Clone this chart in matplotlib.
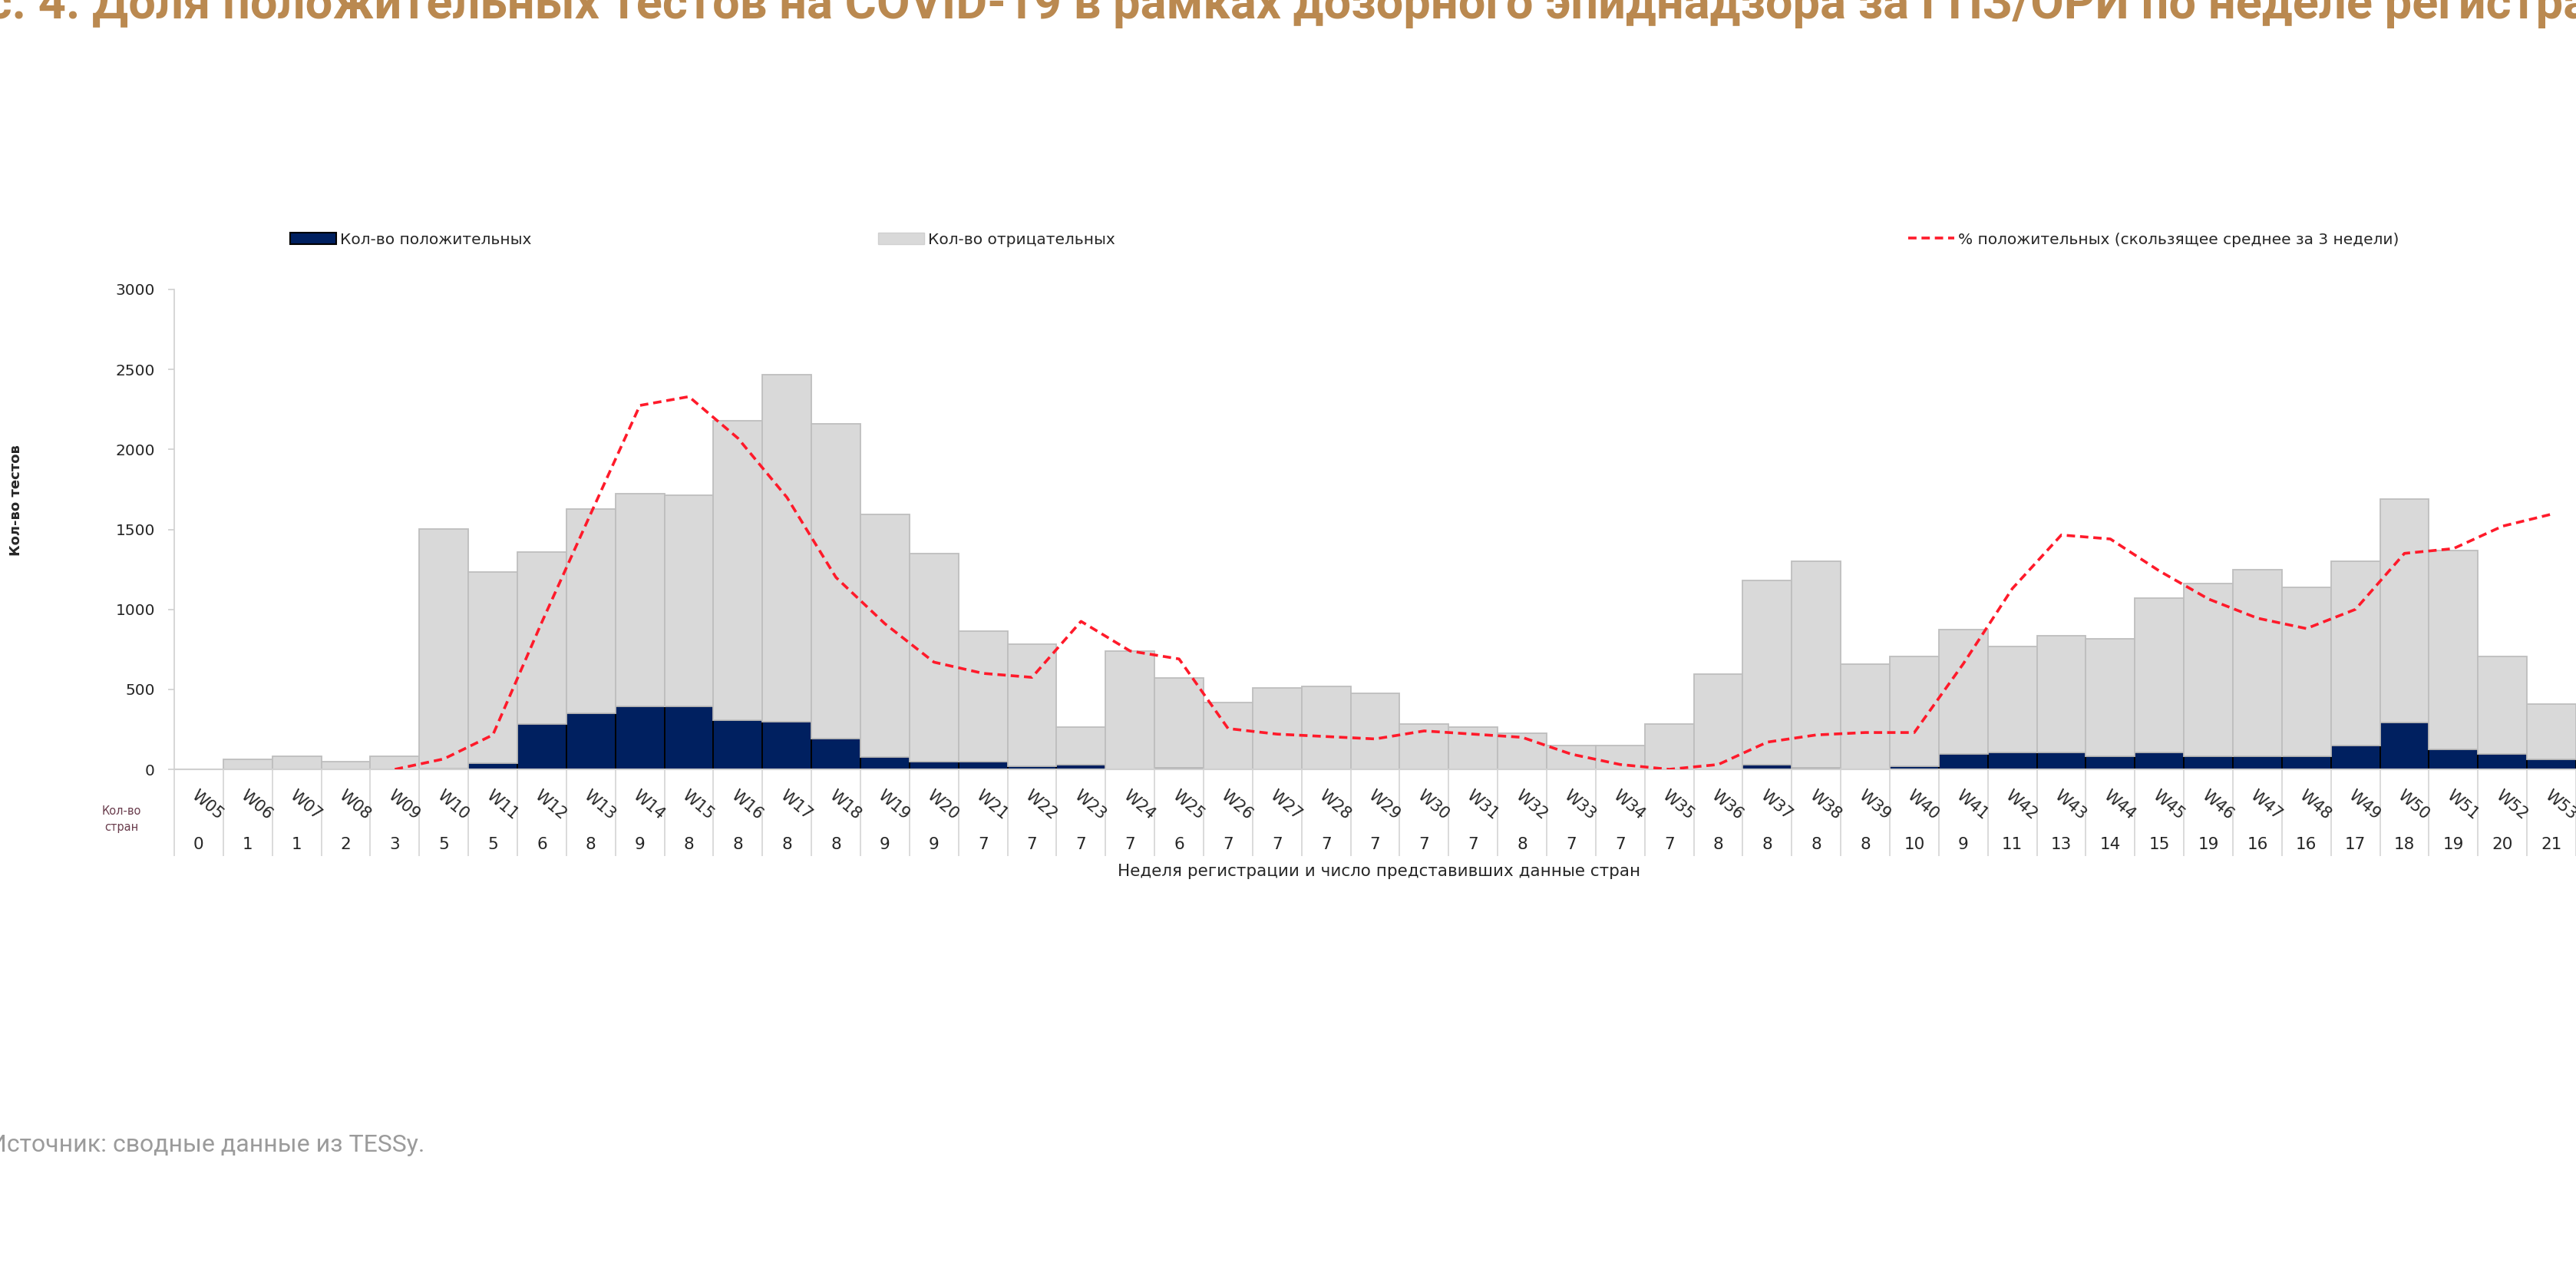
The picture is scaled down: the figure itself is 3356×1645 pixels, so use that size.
import numpy as np
import matplotlib.pyplot as plt
from matplotlib.patches import Patch
from matplotlib.lines import Line2D

# --- data ---
weeks = ['W05', 'W06', 'W07', 'W08', 'W09', 'W10', 'W11', 'W12', 'W13', 'W14',
         'W15', 'W16', 'W17', 'W18', 'W19', 'W20', 'W21', 'W22', 'W23', 'W24',
         'W25', 'W26', 'W27', 'W28', 'W29', 'W30', 'W31', 'W32', 'W33', 'W34',
         'W35', 'W36', 'W37', 'W38', 'W39', 'W40', 'W41', 'W42', 'W43', 'W44',
         'W45', 'W46', 'W47', 'W48', 'W49', 'W50', 'W51', 'W52', 'W53']
countries = [0, 1, 1, 2, 3, 5, 5, 6, 8, 9, 8, 8, 8, 8, 9, 9, 7, 7, 7, 7,
             6, 7, 7, 7, 7, 7, 7, 8, 7, 7, 7, 8, 8, 8, 8, 10, 9, 11, 13, 14,
             15, 19, 16, 16, 17, 18, 19, 20, 21]
total_tests = [0, 61, 83, 50, 83, 1501, 1236, 1360, 1625, 1725,
               1714, 2180, 2465, 2158, 1592, 1347, 863, 782, 263, 738,
               573, 420, 507, 517, 473, 283, 263, 228, 150, 150,
               283, 594, 1182, 1303, 658, 705, 875, 768, 837, 815,
               1069, 1160, 1248, 1138, 1303, 1692, 1367, 705, 407]
positives = [0, 0, 0, 0, 0, 6, 40, 285, 350, 393,
             395, 305, 296, 194, 75, 50, 50, 19, 30, 0,
             8, 0, 0, 0, 0, 0, 0, 0, 0, 0,
             0, 0, 28, 8, 0, 19, 94, 108, 108, 83,
             105, 83, 83, 83, 149, 295, 124, 97, 61]
pct_pos_3wk = [np.nan, np.nan, np.nan, np.nan, 0.0, 1.3, 4.3, 18.4, 32.0, 45.5,
               46.6, 41.4, 34.0, 24.0, 18.2, 13.4, 12.0, 11.5, 18.5, 14.8,
               13.8, 5.1, 4.4, 4.1, 3.8, 4.8, 4.4, 4.0, 1.9, 0.6,
               0.0, 0.6, 3.4, 4.3, 4.6, 4.6, 13.2, 22.6, 29.3, 28.8,
               24.8, 21.3, 18.9, 17.6, 20.0, 27.0, 27.6, 30.4, 31.9]

title = ('Рис. 4. Доля положительных тестов на COVID-19 в рамках дозорного '
         'эпиднадзора за ГПЗ/ОРИ по неделе регистрации')

W, H = 3356, 1645
def fx(px):
    return px / W
def fy(py):
    return 1 - py / H

fig = plt.figure(figsize=(W / 100, H / 100), dpi=100)
fig.patch.set_facecolor('white')

plt.rcParams['font.family'] = ['DejaVu Sans']
txt_col = '#262626'

# axes: zero line at y=1002 px, 3000 at 377 px, y axis at x=227 px
ax = fig.add_axes([fx(227), fy(1002), 1 - fx(227), (1002 - 377) / H])
x = np.arange(len(weeks))
pos = np.array(positives, dtype=float)
neg = np.array(total_tests, dtype=float) - pos

has_pos = pos > 0
ax.bar(x[has_pos], pos[has_pos], width=1.0, color='#002060',
       edgecolor='#000000', linewidth=1.3, zorder=2)
ax.bar(x, neg, bottom=pos, width=1.0, color='#D9D9D9',
       edgecolor='#BEBEBE', linewidth=1.3, zorder=2)

ax.set_ylim(0, 3000)
ax.set_xlim(-0.5, -0.5 + (W - 227) / 64.2)
ax.set_yticks([0, 500, 1000, 1500, 2000, 2500, 3000])
ax.tick_params(axis='y', length=6, width=1.2, color='#D0D0D0', pad=12,
               labelsize=14.5, labelcolor=txt_col)
ax.set_xticks([])
ax.set_xticks(np.arange(-0.5, len(weeks)), minor=True)
ax.tick_params(axis='x', which='minor', length=81, width=1.2, color='#D4D4D4')
for s in ['top', 'right']:
    ax.spines[s].set_visible(False)
ax.spines['left'].set_color('#D0D0D0')
ax.spines['left'].set_linewidth(1.2)
ax.spines['bottom'].set_color('#D0D0D0')
ax.spines['bottom'].set_linewidth(1.5)

ax2 = ax.twinx()
ax2.set_ylim(0, 60)
ax2.plot(x, pct_pos_3wk, color='#FF1A2A', linewidth=2.6,
         linestyle=(0, (3, 1.8)), zorder=5)
ax2.set_yticks([])
for s in ax2.spines.values():
    s.set_visible(False)

# labels under the axis
trans = ax.get_xaxis_transform()
def ya(py):
    return (1002 - py) / (1002 - 377) * -1.0 * -1.0 if False else -(py - 1002) / (1002 - 377)

for i, wk in enumerate(weeks):
    ax.text(i - 0.1, ya(1033), wk, rotation=-40, rotation_mode='anchor',
            ha='left', va='center', fontsize=15, color=txt_col,
            transform=trans, clip_on=False)
for i, c in enumerate(countries):
    ax.text(i, ya(1100), str(c), ha='center', va='center', fontsize=15.5,
            color=txt_col, transform=trans, clip_on=False)

fig.text(fx(158), fy(1067), 'Кол-во\nстран', ha='center', va='center',
         fontsize=10.5, color='#6A3D4D', linespacing=1.5)
fig.text(fx(1797), fy(1135), 'Неделя регистрации и число представивших данные стран',
         ha='center', va='center', fontsize=15.5, color=txt_col)
fig.text(fx(21), fy(652), 'Кол-во тестов', rotation=90, ha='center',
         va='center', fontsize=13, fontweight='bold', color=txt_col)

# legend, three entries spread across the top
leg_items = [
    (Patch(facecolor='#002060', edgecolor='#000000', linewidth=1.5),
     'Кол-во положительных', 378),
    (Patch(facecolor='#D9D9D9', edgecolor='#D0D0D0', linewidth=1.0),
     'Кол-во отрицательных', 1144),
    (Line2D([], [], color='#FF1A2A', linewidth=2.6, linestyle=(0, (3, 1.8))),
     '% положительных (скользящее среднее за 3 недели)', 2486),
]
for handle, label, px in leg_items:
    lg = fig.legend([handle], [label], loc='center left',
                    bbox_to_anchor=(fx(px), fy(312)), frameon=False,
                    fontsize=14.5, handlelength=3.0, handleheight=0.7,
                    handletextpad=0.25, borderpad=0, borderaxespad=0,
                    labelcolor=txt_col)

# title, cropped at both sides like the reference
r = fig.canvas.get_renderer()
tfont = dict(family='Roboto', weight='bold', color='#BA8950')
probe = fig.text(0, 0, 'с. 4. Доля положительных тестов на COVID-19 в рамках '
                 'дозорного эпиднадзора за ГПЗ/ОРИ по неделе регистра',
                 fontsize=40, **tfont)
wvis = probe.get_window_extent(r).width
probe.remove()
tsize = 40 * (W + 30) / wvis
probe = fig.text(0, 0, 'Ри', fontsize=tsize, **tfont)
wpre = probe.get_window_extent(r).width
probe.remove()
fig.text(fx(-17 - wpre), fy(24), title, fontsize=tsize, va='baseline', **tfont)

fig.text(fx(-14), fy(1492), 'Источник: сводные данные из TESSy.',
         family='Roboto', fontsize=23, color='#9B9B9B', va='center', ha='left')

fig.savefig('out.png', dpi=100)
